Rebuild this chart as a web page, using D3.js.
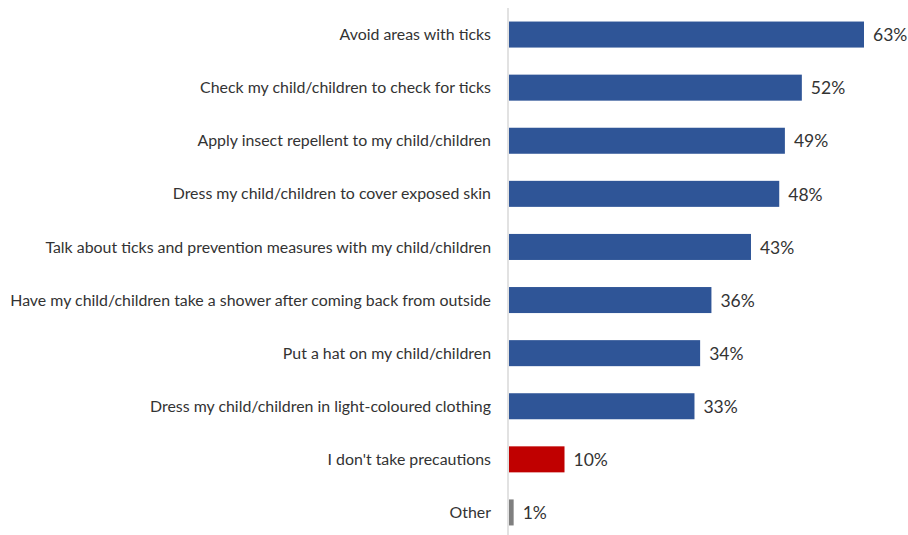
<!DOCTYPE html>
<html>
<head>
<meta charset="utf-8">
<script src="https://cdn.jsdelivr.net/npm/d3@7"></script>
<style>
  html, body { margin: 0; padding: 0; background: #fff; }
  svg text { font-family: Lato, "Open Sans", sans-serif; }
</style>
</head>
<body>
<svg id="chart" width="908" height="535"></svg>
<script>
// Precautions taken for children against ticks (% of respondents)
const categories = [
  "Avoid areas with ticks",
  "Check my child/children to check for ticks",
  "Apply insect repellent to my child/children",
  "Dress my child/children to cover exposed skin",
  "Talk about ticks and prevention measures with my child/children",
  "Have my child/children take a shower after coming back from outside",
  "Put a hat on my child/children",
  "Dress my child/children in light-coloured clothing",
  "I don't take precautions",
  "Other"
];
const values = [63, 52, 49, 48, 43, 36, 34, 33, 10, 1];
const barColors = ["#2f5597", "#2f5597", "#2f5597", "#2f5597", "#2f5597",
                   "#2f5597", "#2f5597", "#2f5597", "#c00000", "#7f7f7f"];

const svg = d3.select("#chart");
const x0 = 508;

const x = d3.scaleLinear().domain([0, 63]).range([x0, 864]);
const y = d3.scaleBand().domain(categories).range([8, 539]).paddingInner(0.51).paddingOuter(0.255);

// vertical category axis line
svg.append("line")
  .attr("x1", x0).attr("x2", x0)
  .attr("y1", 8).attr("y2", 535)
  .attr("stroke", "#d9d9d9").attr("stroke-width", 1.5);

svg.selectAll("rect.bar")
  .data(values)
  .join("rect")
  .attr("class", "bar")
  .attr("x", x0 + 1)
  .attr("y", (d, i) => y(categories[i]))
  .attr("width", d => x(d) - x0 - 1)
  .attr("height", y.bandwidth())
  .attr("fill", (d, i) => barColors[i]);

svg.selectAll("text.cat")
  .data(categories)
  .join("text")
  .attr("class", "cat")
  .attr("x", 491)
  .attr("y", d => y(d) + y.bandwidth() / 2)
  .attr("dy", "0.35em")
  .attr("text-anchor", "end")
  .attr("font-size", 15.9)
  .attr("fill", "#333333")
  .text(d => d);

svg.selectAll("text.val")
  .data(values)
  .join("text")
  .attr("class", "val")
  .attr("x", d => x(d) + 9)
  .attr("y", (d, i) => y(categories[i]) + y.bandwidth() / 2)
  .attr("dy", "0.38em")
  .attr("font-size", 17.5)
  .attr("fill", "#333333")
  .text(d => d + "%");
</script>
</body>
</html>
